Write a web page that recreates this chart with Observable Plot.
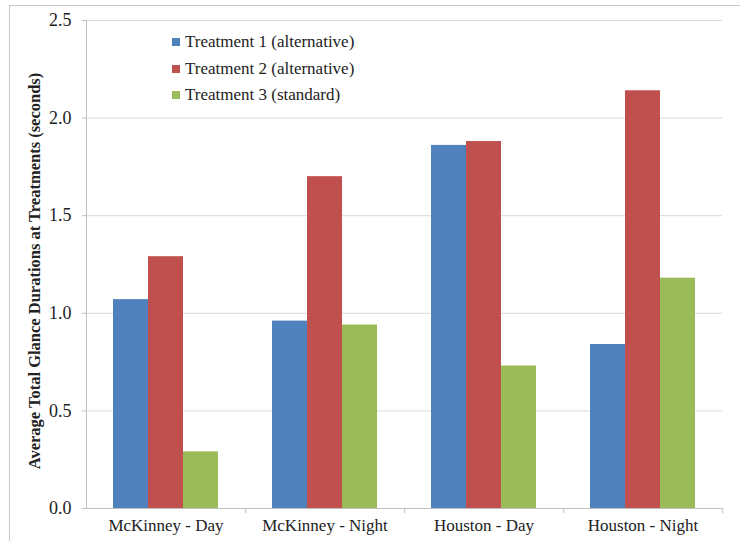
<!DOCTYPE html>
<html><head><meta charset="utf-8">
<script src="https://cdn.jsdelivr.net/npm/d3@7"></script>
<script src="https://cdn.jsdelivr.net/npm/@observablehq/plot@0.6"></script>
<style>
body{margin:0;background:#fff;}
#wrap{position:relative;width:740px;height:541px;overflow:hidden;}
#border{position:absolute;left:9px;top:5px;width:800px;height:600px;border-top:1px solid #c8c8c8;border-left:1px solid #c8c8c8;}
#legend{position:absolute;left:172px;top:29px;font-family:"Liberation Serif","Times New Roman",serif;font-size:17px;color:#222;}
#legend div{display:flex;align-items:center;height:26.5px;}
#legend span.sw{display:inline-block;width:8px;height:8px;margin-right:5px;}
#chart{position:absolute;left:0;top:0;}
</style></head>
<body><div id="wrap"><div id="border"></div><div id="chart"></div><div id="legend"></div></div>
<script>
const categories = ["McKinney - Day", "McKinney - Night", "Houston - Day", "Houston - Night"];
const treatments = ["Treatment 1 (alternative)", "Treatment 2 (alternative)", "Treatment 3 (standard)"];
const colors = ["#4f81bd", "#c0504d", "#9bbb59"];
const treatment1 = [1.07, 0.96, 1.86, 0.84];
const treatment2 = [1.29, 1.70, 1.88, 2.14];
const treatment3 = [0.29, 0.94, 0.73, 1.18];
const yTicks = [0, 0.5, 1.0, 1.5, 2.0, 2.5];
const yLabel = "Average Total Glance Durations at Treatments (seconds)";

const series = [treatment1, treatment2, treatment3];
const data = [];
categories.forEach((c, i) => series.forEach((s, j) => data.push({category: c, treatment: treatments[j], value: s[i]})));

const W = 740, H = 541, mL = 85, mR = 17, mT = 20, mB = 33;
const step = (W - mL - mR) / categories.length;
const font = '"Liberation Serif","Times New Roman",serif';

const plot = Plot.plot({
  width: W, height: H,
  marginLeft: mL, marginRight: mR, marginTop: mT, marginBottom: mB,
  style: {fontFamily: font, fontSize: "17px", color: "#222", background: "transparent"},
  fx: {domain: categories, padding: 0, label: null},
  x: {domain: treatments, paddingInner: 0, paddingOuter: 0.75, axis: null},
  y: {domain: [0, 2.5], label: null},
  color: {domain: treatments, range: colors},
  marks: [
    Plot.gridY(yTicks, {stroke: "#d9d9d9", strokeOpacity: 1}),
    Plot.barY(data, {fx: "category", x: "treatment", y: "value", fill: "treatment"}),
    Plot.ruleY([0], {stroke: "#bfbfbf"}),
    Plot.frame({anchor: "left", stroke: "#bfbfbf", facetAnchor: "left"}),
    Plot.axisY(yTicks, {tickSize: 4, tickPadding: 11, tickFormat: d3.format(".1f"), stroke: "#bfbfbf", label: null, fontSize: 18}),
    Plot.axisFx({anchor: "bottom", tickSize: 0, tickPadding: 10, label: null, fontSize: 17}),
    Plot.axisFx({anchor: "bottom", tickSize: 5, tickFormat: () => "", dx: step / 2, stroke: "#bfbfbf", label: null})
  ]
});
document.getElementById("chart").appendChild(plot);

// y axis title
const svg = d3.select(plot);
svg.append("text")
  .attr("transform", `translate(36,271) rotate(-90)`)
  .attr("text-anchor", "middle")
  .attr("dominant-baseline", "middle")
  .style("font-family", font)
  .style("font-weight", "bold")
  .style("font-size", "16.5px")
  .attr("fill", "#222")
  .text(yLabel);

const legend = document.getElementById("legend");
treatments.forEach((t, i) => {
  const row = document.createElement("div");
  row.innerHTML = `<span class="sw" style="background:${colors[i]}"></span>${t}`;
  legend.appendChild(row);
});
</script></body></html>
